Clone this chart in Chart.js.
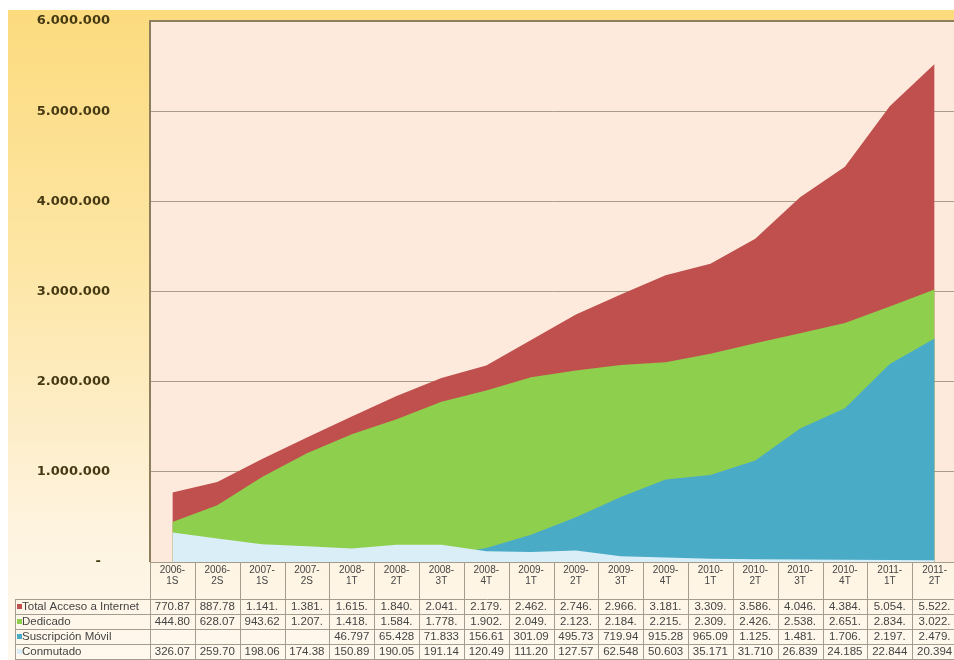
<!DOCTYPE html>
<html>
<head>
<meta charset="utf-8">
<script src="https://cdn.jsdelivr.net/npm/chart.js@4.4.0/dist/chart.umd.min.js"></script>
<style>
  html, body { margin: 0; padding: 0; background: #fff; overflow: hidden; }
  canvas { display: block; }
</style>
</head>
<body>
<canvas id="myArea" width="960" height="660"></canvas>
<script>
// periods (semesters then quarters)
const categories = ['2006-1S', '2006-2S', '2007-1S', '2007-2S', '2008-1T', '2008-2T', '2008-3T', '2008-4T', '2009-1T',
  '2009-2T', '2009-3T', '2009-4T', '2010-1T', '2010-2T', '2010-3T', '2010-4T', '2011-1T', '2011-2T'];

const totalAcceso = [770870, 887780, 1141000, 1381000, 1615000, 1840000, 2041000, 2179000, 2462000,
  2746000, 2966000, 3181000, 3309000, 3586000, 4046000, 4384000, 5054000, 5522000];
const dedicado = [444800, 628070, 943620, 1207000, 1418000, 1584000, 1778000, 1902000, 2049000,
  2123000, 2184000, 2215000, 2309000, 2426000, 2538000, 2651000, 2834000, 3022000];
const suscripcionMovil = [null, null, null, null, 46797, 65428, 71833, 156610, 301090,
  495730, 719940, 915280, 965090, 1125000, 1481000, 1706000, 2197000, 2479000];
const conmutado = [326070, 259700, 198060, 174380, 150890, 190050, 191140, 120490, 111200,
  127570, 62548, 50603, 35171, 31710, 26839, 24185, 22844, 20394];

const seriesNames = ['Total Acceso a Internet', 'Dedicado', 'Suscripción Móvil', 'Conmutado'];
const seriesColors = ['#c0504d', '#8fcf4e', '#4aabc6', '#d9eef6'];
const yTicks = [0, 1000000, 2000000, 3000000, 4000000, 5000000, 6000000];

const seriesData = [totalAcceso, dedicado, suscripcionMovil, conmutado];

function dots(v) {
  return String(v).replace(/\B(?=(\d{3})+(?!\d))/g, '.');
}
function fmt(v) {
  // cut like the narrow Excel cells
  if (v === null) return '';
  return dots(v).slice(0, 6);
}

const backdrop = {
  id: 'backdrop',
  beforeDraw(chart) {
    const { ctx, chartArea: a, width, height } = chart;
    ctx.save();
    ctx.fillStyle = '#ffffff';
    ctx.fillRect(0, 0, width, height);
    const g = ctx.createLinearGradient(0, 10, 0, height);
    g.addColorStop(0, '#fcdb7e');
    g.addColorStop(0.4, '#fde6a6');
    g.addColorStop(0.8, '#fef3df');
    g.addColorStop(1, '#fff8ee');
    ctx.fillStyle = g;
    ctx.fillRect(8, 10, width - 8, height - 10);
    ctx.fillStyle = '#fdeadc';
    ctx.fillRect(a.left, a.top, width - a.left, a.bottom - a.top);
    ctx.restore();
  },
  afterDraw(chart) {
    const { ctx, chartArea: a, width } = chart;
    const x = chart.scales.x;
    const n = categories.length;
    const colW = (a.right - a.left) / n;
    ctx.save();
    // plot frame
    ctx.strokeStyle = '#8d7f5e';
    ctx.lineWidth = 2;
    ctx.beginPath();
    ctx.moveTo(a.left, a.bottom);
    ctx.lineTo(a.left, a.top);
    ctx.lineTo(width, a.top);
    ctx.stroke();

    // data table
    const top = a.bottom;
    const headH = 37.5;
    const rowH = 15;
    const keyLeft = 15;
    ctx.strokeStyle = '#a39d8f';
    ctx.lineWidth = 1;
    ctx.beginPath();
    ctx.moveTo(a.left, top + 0.5);
    ctx.lineTo(width, top + 0.5);
    for (let r = 0; r <= seriesData.length; r++) {
      const y = Math.round(top + headH + r * rowH) - 0.5;
      ctx.moveTo(keyLeft, y);
      ctx.lineTo(width, y);
    }
    for (let i = 0; i <= n; i++) {
      const xx = Math.round(a.left + i * colW) + 0.5;
      ctx.moveTo(xx, top);
      ctx.lineTo(xx, top + headH + seriesData.length * rowH);
    }
    ctx.moveTo(keyLeft + 0.5, top + headH);
    ctx.lineTo(keyLeft + 0.5, top + headH + seriesData.length * rowH);
    ctx.stroke();

    ctx.fillStyle = '#444';
    ctx.textAlign = 'center';
    ctx.textBaseline = 'middle';
    ctx.font = '10px "Liberation Sans", Arial, sans-serif';
    categories.forEach((c, i) => {
      const cx = x.getPixelForValue(i);
      const parts = c.split('-');
      ctx.fillText(parts[0] + '-', cx, top + 8);
      ctx.fillText(parts[1], cx, top + 19);
    });

    ctx.font = '11.5px "Liberation Sans", Arial, sans-serif';
    seriesData.forEach((vals, r) => {
      const cy = top + headH + r * rowH + rowH / 2;
      ctx.fillStyle = seriesColors[r];
      ctx.fillRect(keyLeft + 2, cy - 3, 5, 5);
      ctx.fillStyle = '#444';
      ctx.textAlign = 'left';
      ctx.fillText(seriesNames[r], keyLeft + 7, cy);
      ctx.textAlign = 'center';
      vals.forEach((v, i) => {
        ctx.fillText(fmt(v), x.getPixelForValue(i), cy);
      });
    });
    ctx.restore();
  }
};

const ctx = document.getElementById('myArea').getContext('2d');
const myChart = new Chart(ctx, {
  type: 'line',
  data: {
    labels: categories,
    datasets: seriesData.map((d, i) => ({
      label: seriesNames[i],
      data: d,
      backgroundColor: seriesColors[i],
      borderColor: seriesColors[i],
      borderWidth: 0,
      pointRadius: 0,
      fill: 'origin',
      tension: 0,
      order: seriesData.length - i
    }))
  },
  options: {
    responsive: false,
    animation: false,
    events: [],
    layout: { padding: { left: 0, top: 21, right: 3, bottom: 98 } },
    plugins: { legend: { display: false }, tooltip: { enabled: false } },
    scales: {
      x: { type: 'category', offset: true, display: false },
      y: {
        min: 0,
        max: 6000000,
        afterBuildTicks: (s) => { s.ticks = yTicks.map(v => ({ value: v })); },
        afterFit: (s) => { s.width = 150; s.paddingTop = 0; s.paddingBottom = 0; },
        border: { display: false },
        grid: { color: '#a99d89', lineWidth: 1, drawTicks: false },
        ticks: {
          padding: 40,
          color: '#463a14',
          font: { family: '"DejaVu Sans", sans-serif', size: 13, weight: 'bold' },
          callback: (v) => v === 0 ? '-  ' : dots(v)
        }
      }
    }
  },
  plugins: [backdrop]
});
</script>
</body>
</html>
